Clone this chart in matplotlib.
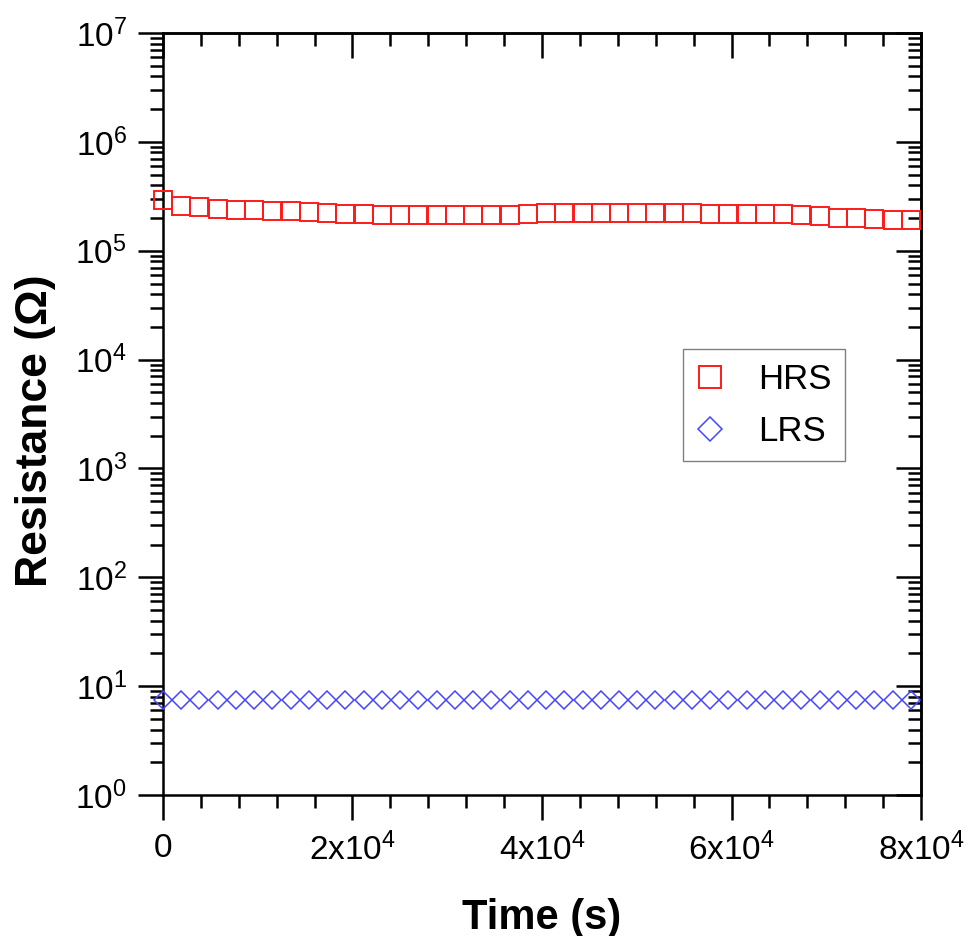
import matplotlib
matplotlib.use("Agg")
import matplotlib.pyplot as plt
from matplotlib.ticker import FixedLocator, LogLocator, MultipleLocator, NullFormatter

plt.rcParams['font.family'] = ['Liberation Sans', 'DejaVu Sans']
plt.rcParams['mathtext.fontset'] = 'custom'
plt.rcParams['mathtext.rm'] = 'Liberation Sans'

time_s = [0, 1925, 3850, 5775, 7700, 9625, 11550, 13475, 15400, 17325,
          19250, 21175, 23100, 25025, 26950, 28875, 30800, 32725, 34650, 36575,
          38500, 40425, 42350, 44275, 46200, 48125, 50050, 51975, 53900, 55825,
          57750, 59675, 61600, 63525, 65450, 67375, 69300, 71225, 73150, 75075,
          77000, 78925]
hrs = [2.93e5, 2.58e5, 2.50e5, 2.40e5, 2.35e5, 2.35e5, 2.30e5, 2.30e5, 2.27e5, 2.24e5,
       2.17e5, 2.17e5, 2.15e5, 2.13e5, 2.13e5, 2.13e5, 2.13e5, 2.13e5, 2.13e5, 2.15e5,
       2.18e5, 2.20e5, 2.20e5, 2.20e5, 2.20e5, 2.20e5, 2.20e5, 2.20e5, 2.20e5, 2.22e5,
       2.17e5, 2.17e5, 2.17e5, 2.17e5, 2.17e5, 2.15e5, 2.08e5, 2.00e5, 2.00e5, 1.95e5,
       1.93e5, 1.90e5]
lrs = [7.5] * 42

x_ticks = [0, 20000, 40000, 60000, 80000]
x_ticklabels = ['0', r'$\mathregular{2x10^{4}}$', r'$\mathregular{4x10^{4}}$',
                r'$\mathregular{6x10^{4}}$', r'$\mathregular{8x10^{4}}$']
y_ticks = [1e0, 1e1, 1e2, 1e3, 1e4, 1e5, 1e6, 1e7]
y_ticklabels = [r'$\mathregular{10^{%d}}$' % i for i in range(8)]

TICK_FS = 24
fig = plt.figure(figsize=(9.69, 9.36), dpi=100)
ax = fig.add_axes([0.1682, 0.1506, 0.9505 - 0.1682, 0.9647 - 0.1506])

ax.plot(time_s, hrs, linestyle='none', marker='s', markersize=13,
        markerfacecolor='none', markeredgecolor='#ff1a1a', markeredgewidth=1.4,
        label='HRS', clip_on=False, zorder=3)
ax.plot(time_s, lrs, linestyle='none', marker='D', markersize=9.6,
        markerfacecolor='none', markeredgecolor='#4646ff', markeredgewidth=1.1,
        label='LRS', clip_on=False, zorder=3)

ax.set_yscale('log')
ax.set_xlim(0, 80000)
ax.set_ylim(1e0, 1e7)

ax.xaxis.set_major_locator(FixedLocator(x_ticks))
ax.set_xticklabels(x_ticklabels, fontsize=TICK_FS)
ax.xaxis.set_minor_locator(MultipleLocator(4000))
ax.yaxis.set_major_locator(FixedLocator(y_ticks))
ax.set_yticklabels(y_ticklabels, fontsize=TICK_FS)
ax.yaxis.set_minor_locator(LogLocator(base=10, subs=[2, 3, 4, 5, 6, 7, 8, 9], numticks=20))
ax.yaxis.set_minor_formatter(NullFormatter())

for side in ['left', 'right', 'top', 'bottom']:
    ax.spines[side].set_linewidth(1.8)

ax.tick_params(axis='both', which='major', length=18, width=1.8)
ax.tick_params(axis='both', which='minor', length=9.4, width=1.8)
ax.tick_params(axis='x', which='both', direction='out', bottom=True, top=False)
ax.tick_params(axis='y', which='both', direction='out', left=True, right=False)
ax.tick_params(axis='x', which='major', pad=9)
ax.tick_params(axis='y', which='major', pad=8)

# mirrored inward ticks on top and right
sec_x = ax.secondary_xaxis('top')
sec_x.xaxis.set_major_locator(FixedLocator(x_ticks))
sec_x.xaxis.set_minor_locator(MultipleLocator(4000))
sec_x.tick_params(axis='x', which='major', direction='in', length=18, width=1.8, labeltop=False)
sec_x.tick_params(axis='x', which='minor', direction='in', length=9.4, width=1.8)
sec_x.spines['top'].set_linewidth(1.8)
sec_y = ax.secondary_yaxis('right')
sec_y.yaxis.set_major_locator(FixedLocator(y_ticks))
sec_y.yaxis.set_minor_locator(LogLocator(base=10, subs=[2, 3, 4, 5, 6, 7, 8, 9], numticks=20))
sec_y.yaxis.set_minor_formatter(NullFormatter())
sec_y.tick_params(axis='y', which='major', direction='in', length=18, width=1.8, labelright=False)
sec_y.tick_params(axis='y', which='minor', direction='in', length=9.4, width=1.8)
sec_y.spines['right'].set_linewidth(1.8)

ax.set_xlabel('Time (s)', fontsize=30, fontweight='bold')
ax.set_ylabel('Resistance (Ω)', fontsize=32, fontweight='bold')
ax.xaxis.set_label_coords(0.5, -0.135)
ax.yaxis.set_label_coords(-0.141, 0.478)

leg = ax.legend(loc='upper left', bbox_to_anchor=(0.686, 0.585), fontsize=25,
                frameon=True, fancybox=False, framealpha=1, edgecolor='#808080',
                borderpad=0.39, labelspacing=0.55, handlelength=0.78,
                handletextpad=0.99, borderaxespad=0, markerscale=1.25)
leg.get_frame().set_linewidth(1.0)

fig.savefig('out.png', dpi=100)
